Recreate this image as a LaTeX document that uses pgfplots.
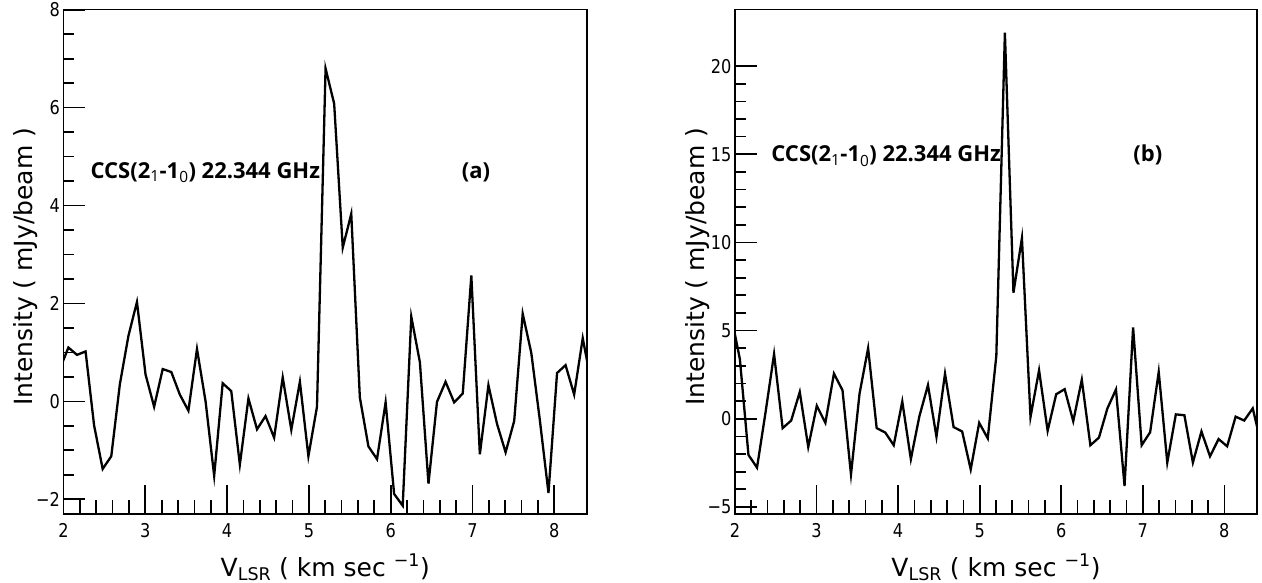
\documentclass[border=0pt]{standalone}
\usepackage{pgfplots}
\pgfplotsset{compat=1.18}
\usepackage{fontspec}
\setmainfont{DejaVu Sans}
\newfontfamily\tickfont[FakeStretch=0.85]{DejaVu Sans}
\newfontfamily\annfont{Open Sans}

\pgfplotstableread{
x y
1.955 0.66
2.060 1.10
2.165 0.95
2.270 1.02
2.374 -0.49
2.479 -1.38
2.584 -1.12
2.689 0.35
2.794 1.34
2.898 2.03
3.003 0.55
3.108 -0.11
3.213 0.66
3.318 0.60
3.422 0.14
3.527 -0.19
3.632 1.07
3.737 0.00
3.842 -1.52
3.946 0.37
4.051 0.21
4.156 -1.29
4.261 0.06
4.366 -0.57
4.470 -0.30
4.575 -0.74
4.680 0.49
4.785 -0.58
4.890 0.40
4.994 -1.12
5.099 -0.11
5.204 6.80
5.309 6.08
5.414 3.14
5.518 3.83
5.623 0.08
5.728 -0.92
5.833 -1.18
5.938 -0.02
6.042 -1.89
6.147 -2.13
6.252 1.73
6.357 0.80
6.462 -1.68
6.566 -0.01
6.671 0.40
6.776 -0.02
6.881 0.16
6.986 2.57
7.090 -1.08
7.195 0.33
7.300 -0.46
7.405 -1.04
7.510 -0.40
7.614 1.79
7.719 0.99
7.824 -0.39
7.929 -1.87
8.034 0.58
8.138 0.74
8.243 0.14
8.348 1.29
8.453 0.37
}\dataA

\pgfplotstableread{
x y
1.955 5.80
2.060 3.38
2.165 -2.05
2.270 -2.77
2.374 0.35
2.479 3.67
2.584 -0.53
2.689 -0.10
2.794 1.52
2.898 -1.60
3.003 0.74
3.108 -0.23
3.213 2.56
3.318 1.62
3.422 -3.16
3.527 1.43
3.632 4.00
3.737 -0.53
3.842 -0.78
3.946 -1.50
4.051 0.98
4.156 -2.29
4.261 0.15
4.366 1.91
4.470 -1.02
4.575 2.56
4.680 -0.47
4.785 -0.72
4.890 -2.87
4.994 -0.23
5.099 -1.11
5.204 3.57
5.309 21.90
5.414 7.15
5.518 10.25
5.623 0.10
5.728 2.75
5.833 -0.68
5.938 1.39
6.042 1.68
6.147 -0.14
6.252 2.21
6.357 -1.50
6.462 -1.07
6.566 0.59
6.671 1.66
6.776 -3.81
6.881 5.18
6.986 -1.50
7.090 -0.76
7.195 2.66
7.300 -2.48
7.405 0.25
7.510 0.20
7.614 -2.48
7.719 -0.72
7.824 -2.13
7.929 -1.15
8.034 -1.56
8.138 0.12
8.243 -0.10
8.348 0.59
8.453 -1.47
}\dataB

\pgfplotsset{
  spec/.style={
    scale only axis,
    height=504.3pt,
    xmin=2, xmax=8.4,
    axis line style={line width=1.5pt},
    tick align=inside,
    tick pos=left,
    xtick={2,3,4,5,6,7,8},
    minor x tick num=4,
    major tick length=22pt,
    minor tick length=11pt,
    every tick/.append style={line width=1.7pt,black},
    every major tick/.append style={line width=1.7pt,black},
    every minor tick/.append style={line width=1.7pt,black},
    xtick style={/pgfplots/major tick length=29pt,/pgfplots/minor tick length=14pt,line width=1.7pt,black},
    ytick style={line width=1.7pt,black},
    tick label style={font=\tickfont\fontsize{19}{22}\selectfont},
    xticklabel style={yshift=-6pt},
    /pgf/number format/assume math mode=true,
    label style={font=\fontsize{25}{30}\selectfont},
    xlabel={V\textsubscript{LSR} ( km sec \textsuperscript{\char"2212 1})},
    ylabel={Intensity ( mJy/beam )},
    xlabel style={at={(axis description cs:0.5,-0.123)},anchor=base},
    ylabel style={at={(axis description cs:-0.0583,0.49)},anchor=base,rotate=0},
    clip=true,
  },
  dat/.style={black,line width=2.3pt,line join=miter,mark=none},
}

\begin{document}
\begin{tikzpicture}
\useasboundingbox (-63.5pt,-69pt) rectangle (1198.5pt,514pt);
\begin{axis}[spec,
  width=523.5pt,
  at={(0pt,0pt)}, anchor=south west,
  ymin=-2.3, ymax=8,
  ytick={-2,0,2,4,6,8},
  yticklabels={\char"2212 2,0,2,4,6,8},
  minor y tick num=3,
]
\addplot[dat] table[x=x,y=y]{\dataA};
\node[anchor=base west,font=\annfont\bfseries\fontsize{22}{26}\selectfont] at (rel axis cs:0.045,0.666)
  {CCS(2{\mdseries\textsubscript{1}}-1{\mdseries\textsubscript{0}}) 22.344 GHz};
\node[anchor=base,font=\annfont\bfseries\fontsize{22}{26}\selectfont] at (rel axis cs:0.788,0.666) {(a)};
\end{axis}
\begin{axis}[spec,
  width=522pt,
  at={(671.5pt,0pt)}, anchor=south west,
  ymin=-5.4, ymax=23.2,
  ytick={-5,0,5,10,15,20},
  yticklabels={\char"2212 5,0,5,10,15,20},
  minor y tick num=4,
]
\addplot[dat] table[x=x,y=y]{\dataB};
\node[anchor=base west,font=\annfont\bfseries\fontsize{22}{26}\selectfont] at (rel axis cs:0.063,0.698)
  {CCS(2{\mdseries\textsubscript{1}}-1{\mdseries\textsubscript{0}}) 22.344 GHz};
\node[anchor=base,font=\annfont\bfseries\fontsize{22}{26}\selectfont] at (rel axis cs:0.791,0.698) {(b)};
\end{axis}
\end{tikzpicture}
\end{document}
